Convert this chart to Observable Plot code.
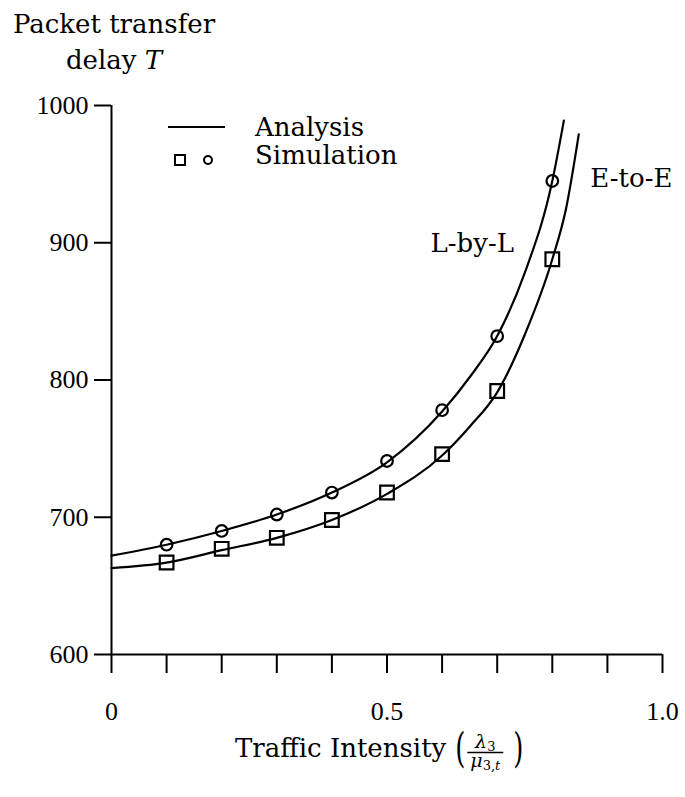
<!DOCTYPE html>
<html>
<head>
<meta charset="utf-8">
<script src="https://cdn.jsdelivr.net/npm/d3@7"></script>
<script src="https://cdn.jsdelivr.net/npm/@observablehq/plot@0.6"></script>
<style>
  html, body { margin: 0; padding: 0; background: #fff; }
  #chart { width: 685px; height: 797px; }
</style>
</head>
<body>
<div id="chart"></div>
<script>
// ---- Data ----
const xSim = [0.1, 0.2, 0.3, 0.4, 0.5, 0.6, 0.7, 0.8];
const simLbyL = [680, 690, 702, 718, 741, 778, 832, 945];   // circles
const simEtoE = [667, 677, 685, 698, 718, 746, 792, 888];   // squares

const xAnaLbyL = [0, 0.1, 0.2, 0.3, 0.4, 0.5, 0.6, 0.65, 0.7, 0.75, 0.8, 0.821];
const anaLbyL  = [672, 680, 690, 702, 718, 740, 777, 802, 832, 878, 945, 989];
const xAnaEtoE = [0, 0.1, 0.2, 0.3, 0.4, 0.5, 0.6, 0.65, 0.7, 0.75, 0.8, 0.825, 0.848];
const anaEtoE  = [663, 667, 676, 685, 698, 717, 745, 766, 791, 833, 888, 925, 979];

const xTicks = [0, 0.1, 0.2, 0.3, 0.4, 0.5, 0.6, 0.7, 0.8, 0.9, 1.0];
const xLabelTicks = [0, 0.5, 1.0];
const xTickLabels = ["0", "0.5", "1.0"];
const yTicks = [600, 700, 800, 900, 1000];
const yTickLabels = ["600", "700", "800", "900", "1000"];

const seriesLabels = ["L-by-L", "E-to-E"];
const legendLabels = ["Analysis", "Simulation"];
const titleLines = ["Packet transfer", "delay "];
const xTitle = "Traffic Intensity";

// ---- Tables built from the arrays ----
const curves = [
  ...xAnaLbyL.map((x, i) => ({x, y: anaLbyL[i], s: seriesLabels[0]})),
  ...xAnaEtoE.map((x, i) => ({x, y: anaEtoE[i], s: seriesLabels[1]}))
];
const circles = xSim.map((x, i) => ({x, y: simLbyL[i]}));
const squares = xSim.map((x, i) => ({x, y: simEtoE[i]}));

const SERIF = "'DejaVu Serif', serif";

const xFmt = d => {
  const k = xLabelTicks.findIndex(v => Math.abs(v - d) < 1e-9);
  return k >= 0 ? xTickLabels[k] : "";
};
const yFmt = d => yTickLabels[yTicks.indexOf(d)];

const plot = Plot.plot({
  width: 685,
  height: 797,
  marginLeft: 111,
  marginRight: 23,
  marginTop: 105,
  marginBottom: 143,
  x: {domain: [0, 1], label: null},
  y: {domain: [600, 1000], label: null},
  style: {
    fontFamily: "'Liberation Serif', serif",
    fontSize: "26px",
    color: "#000",
    background: "#fff"
  },
  marks: [
    Plot.axisX(xTicks, {tickSize: 19, tickPadding: 28, strokeWidth: 2, tickFormat: xFmt, label: null,
      fontFamily: "'Liberation Serif', serif", fontSize: 26}),
    Plot.axisY(yTicks, {tickSize: 17, tickPadding: 6, strokeWidth: 2, tickFormat: yFmt, label: null,
      fontFamily: "'Liberation Serif', serif", fontSize: 26}),
    Plot.ruleX([0], {y1: 600, y2: 1000, stroke: "#000", strokeWidth: 2}),
    Plot.ruleY([600], {x1: 0, x2: 1, stroke: "#000", strokeWidth: 2}),
    Plot.line(curves, {x: "x", y: "y", z: "s", curve: "monotone-x", stroke: "#000", strokeWidth: 2.2}),
    Plot.dot(circles, {x: "x", y: "y", symbol: "circle", r: 5.8, stroke: "#000", strokeWidth: 2.2, fill: "none"}),
    Plot.dot(squares, {x: "x", y: "y", symbol: "square", r: 7.7, stroke: "#000", strokeWidth: 2.2, fill: "none"}),
    Plot.text([seriesLabels[0]], {x: 0.579, y: 899.5, text: d => d, textAnchor: "start",
      fontFamily: SERIF, fontSize: 26, fill: "#000"}),
    Plot.text([seriesLabels[1]], {x: 0.869, y: 946.8, text: d => d, textAnchor: "start",
      fontFamily: SERIF, fontSize: 26, fill: "#000"})
  ]
});

document.getElementById("chart").appendChild(plot);

// ---- Title, legend, x-axis title (real text) ----
const svg = d3.select(plot);
const g = svg.append("g")
  .attr("font-family", SERIF)
  .attr("font-size", 26)
  .attr("text-anchor", "start")
  .attr("fill", "#000");

g.append("text").attr("x", 114).attr("y", 33).attr("text-anchor", "middle").text(titleLines[0]);
const t2 = g.append("text").attr("x", 114).attr("y", 69).attr("text-anchor", "middle");
t2.append("tspan").text(titleLines[1]);
t2.append("tspan").attr("font-style", "italic").text("T");

// legend
g.append("line").attr("x1", 168).attr("x2", 225).attr("y1", 127).attr("y2", 127)
  .attr("stroke", "#000").attr("stroke-width", 2);
g.append("rect").attr("x", 175).attr("y", 155).attr("width", 10).attr("height", 10)
  .attr("fill", "none").attr("stroke", "#000").attr("stroke-width", 2);
g.append("circle").attr("cx", 208).attr("cy", 160).attr("r", 4)
  .attr("fill", "none").attr("stroke", "#000").attr("stroke-width", 2);
g.append("text").attr("x", 255).attr("y", 136).text(legendLabels[0]);
g.append("text").attr("x", 255).attr("y", 164).text(legendLabels[1]);

// x-axis title with fraction
const xl = g.append("text").attr("x", 235).attr("y", 757).text(xTitle);
const w = xl.node().getComputedTextLength();
const p0 = 235 + w + 9;
g.append("text").attr("transform", `translate(${p0},762) scale(1,1.6)`).text("(");
const fc = p0 + 30;
const num = g.append("text").attr("x", fc).attr("y", 748).attr("text-anchor", "middle").attr("font-size", 19);
num.append("tspan").attr("font-style", "italic").text("λ");
num.append("tspan").attr("font-size", 13).attr("dy", 3).text("3");
g.append("line").attr("x1", fc - 18).attr("x2", fc + 18).attr("y1", 752.5).attr("y2", 752.5)
  .attr("stroke", "#000").attr("stroke-width", 1.3);
const den = g.append("text").attr("x", fc).attr("y", 767).attr("text-anchor", "middle").attr("font-size", 19);
den.append("tspan").attr("font-style", "italic").text("μ");
den.append("tspan").attr("font-size", 13).attr("dy", 3).text("3,");
den.append("tspan").attr("font-size", 13).attr("font-style", "italic").text("t");
g.append("text").attr("transform", `translate(${p0 + 58},762) scale(1,1.6)`).text(")");
</script>
</body>
</html>
